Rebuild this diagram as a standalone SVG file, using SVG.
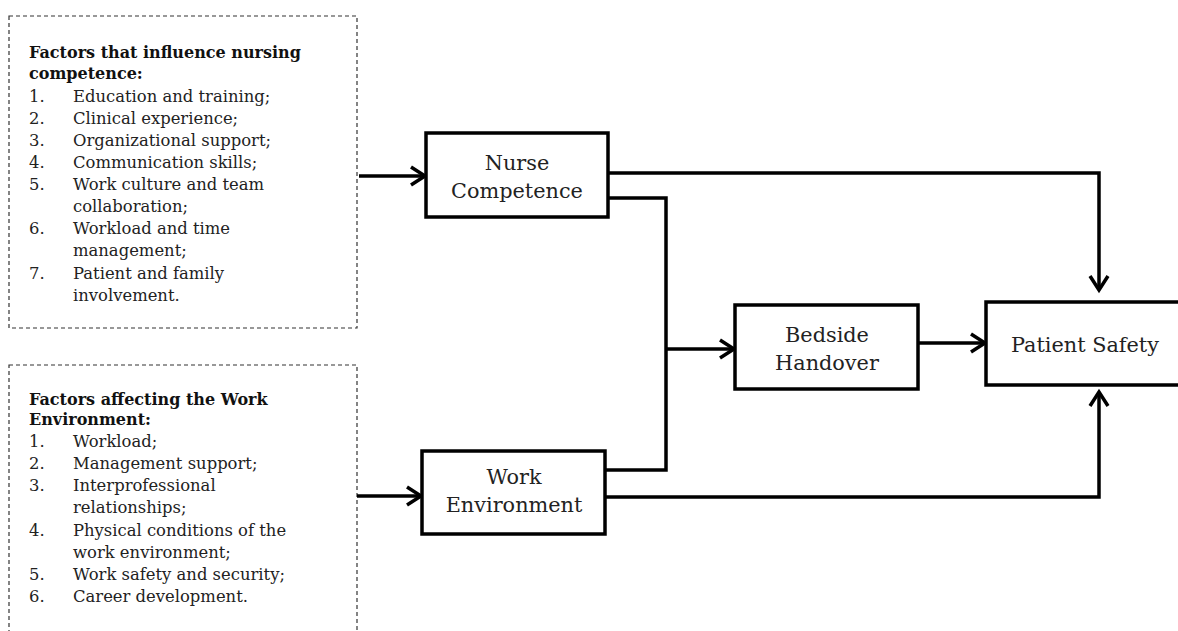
<svg xmlns="http://www.w3.org/2000/svg" width="1178" height="631" viewBox="0 0 1178 631">
<style>
.dash{fill:none;stroke:#333;stroke-width:1.2;stroke-dasharray:4,3}
.t{font-family:"DejaVu Serif","Liberation Serif",serif;font-size:16.4px;fill:#222}
.tb{font-family:"DejaVu Serif","Liberation Serif",serif;font-size:16px;font-weight:bold;fill:#111}
.box{fill:#fff;stroke:#000;stroke-width:3.5}
.nt{font-family:"DejaVu Serif","Liberation Serif",serif;font-size:20.8px;fill:#222;text-anchor:middle}
.c{fill:none;stroke:#000;stroke-width:3.5}
</style>
<defs>
<marker id="ah" markerUnits="userSpaceOnUse" markerWidth="24" markerHeight="24" viewBox="-2 -2 20 24" refX="15" refY="9" orient="auto">
<path d="M1,0 L15,9 L1,18" fill="none" stroke="#000" stroke-width="3.5"/>
</marker>
</defs>
<g id="factors-competence">
<rect class="dash" x="9" y="16" width="348" height="312"/>
<text class="tb" x="29" y="58">Factors that influence nursing</text>
<text class="tb" x="29" y="79">competence:</text>
<text class="t" x="29" y="102">1.</text><text class="t" x="73" y="102">Education and training;</text>
<text class="t" x="29" y="124">2.</text><text class="t" x="73" y="124">Clinical experience;</text>
<text class="t" x="29" y="146">3.</text><text class="t" x="73" y="146">Organizational support;</text>
<text class="t" x="29" y="168">4.</text><text class="t" x="73" y="168">Communication skills;</text>
<text class="t" x="29" y="190">5.</text><text class="t" x="73" y="190">Work culture and team</text>
<text class="t" x="73" y="212">collaboration;</text>
<text class="t" x="29" y="234">6.</text><text class="t" x="73" y="234">Workload and time</text>
<text class="t" x="73" y="256">management;</text>
<text class="t" x="29" y="279">7.</text><text class="t" x="73" y="279">Patient and family</text>
<text class="t" x="73" y="301">involvement.</text>
</g>
<g id="factors-environment">
<rect class="dash" x="9" y="365" width="348" height="280"/>
<text class="tb" x="29" y="405">Factors affecting the Work</text>
<text class="tb" x="29" y="425">Environment:</text>
<text class="t" x="29" y="447">1.</text><text class="t" x="73" y="447">Workload;</text>
<text class="t" x="29" y="469">2.</text><text class="t" x="73" y="469">Management support;</text>
<text class="t" x="29" y="491">3.</text><text class="t" x="73" y="491">Interprofessional</text>
<text class="t" x="73" y="513">relationships;</text>
<text class="t" x="29" y="536">4.</text><text class="t" x="73" y="536">Physical conditions of the</text>
<text class="t" x="73" y="558">work environment;</text>
<text class="t" x="29" y="580">5.</text><text class="t" x="73" y="580">Work safety and security;</text>
<text class="t" x="29" y="602">6.</text><text class="t" x="73" y="602">Career development.</text>
</g>
<g id="connectors">
<line class="c" x1="359" y1="176" x2="425" y2="176" marker-end="url(#ah)"/>
<line class="c" x1="357" y1="496" x2="421" y2="496" marker-end="url(#ah)"/>
<polyline class="c" points="608,173 1099,173 1099,290" marker-end="url(#ah)"/>
<polyline class="c" points="608,198 666,198 666,470 605,470"/>
<line class="c" x1="666" y1="349" x2="734" y2="349" marker-end="url(#ah)"/>
<polyline class="c" points="605,497 1099,497 1099,392" marker-end="url(#ah)"/>
<line class="c" x1="918" y1="343" x2="985" y2="343" marker-end="url(#ah)"/>
</g>
<g id="nurse-competence">
<rect class="box" x="426" y="133" width="182" height="84"/>
<text class="nt" x="517" y="170">Nurse</text>
<text class="nt" x="517" y="198">Competence</text>
</g>
<g id="work-environment">
<rect class="box" x="422" y="451" width="183" height="83"/>
<text class="nt" x="514" y="484">Work</text>
<text class="nt" x="514" y="512">Environment</text>
</g>
<g id="bedside-handover">
<rect class="box" x="735" y="305" width="183" height="84"/>
<text class="nt" x="827" y="342">Bedside</text>
<text class="nt" x="827" y="370">Handover</text>
</g>
<g id="patient-safety">
<rect class="box" x="986" y="302" width="200" height="83"/>
<text class="nt" x="1085" y="352">Patient Safety</text>
</g>
</svg>
